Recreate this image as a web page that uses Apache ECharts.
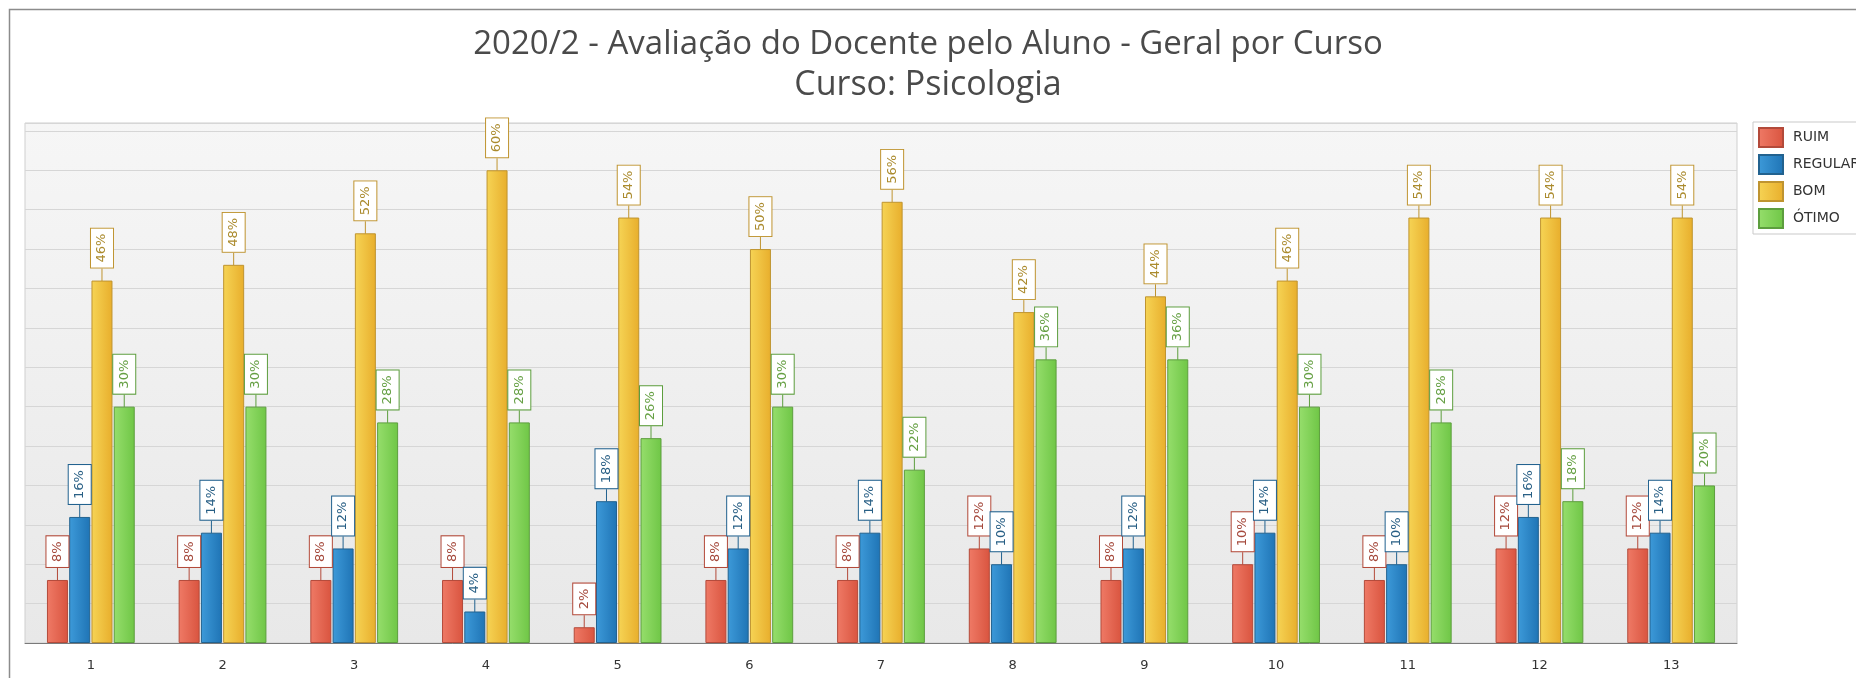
<!DOCTYPE html>
<html style="height: 100%">
   <head>
       <meta charset="utf-8">
   </head>
   <body style="height: 100%; margin: 0; background: #fff">
       <div id="container" style="width: 1856px; height: 678px"></div>
       <script type="text/javascript" src="https://cdn.jsdelivr.net/npm/echarts@6/dist/echarts.min.js"></script>
       <script type="text/javascript">
var dom = document.getElementById("container");
var myChart = echarts.init(dom);

// categorias (perguntas) e percentuais por conceito
var categories = ['1', '2', '3', '4', '5', '6', '7', '8', '9', '10', '11', '12', '13'];
var ruim    = [8, 8, 8, 8, 2, 8, 8, 12, 8, 10, 8, 12, 12];
var regular = [16, 14, 12, 4, 18, 12, 14, 10, 12, 14, 10, 16, 14];
var bom     = [46, 48, 52, 60, 54, 50, 56, 42, 44, 46, 54, 54, 54];
var otimo   = [30, 30, 28, 28, 26, 30, 22, 36, 36, 30, 28, 18, 20];
var seriesNames = ['RUIM', 'REGULAR', 'BOM', 'ÓTIMO'];

var FONT = 'DejaVu Sans';

// sub-ticks: 5 por categoria
var subCats = [];
for (var i = 0; i < categories.length * 5; i++) subCats.push('');

function grad(c1, c2) {
    return new echarts.graphic.LinearGradient(0, 0, 1, 0, [
        {offset: 0, color: c1},
        {offset: 1, color: c2}
    ]);
}

var styles = [
    {fill: grad('#ef7a66', '#d9543f'), border: '#b34a3a', text: '#a5493c'},
    {fill: grad('#3d9ad9', '#1f74b5'), border: '#22628f', text: '#285f85'},
    {fill: grad('#f6d455', '#e8ae2c'), border: '#bf9430', text: '#ab8b2e'},
    {fill: grad('#96de6c', '#6fc646'), border: '#5d9e3e', text: '#66a044'}
];

function makeSeries(name, data, st) {
    return {
        name: name,
        type: 'bar',
        data: data,
        barWidth: 21,
        barGap: '6%',
        itemStyle: {
            color: st.fill,
            borderColor: st.border,
            borderWidth: 1
        },
        label: {
            show: true,
            position: 'top',
            distance: 13,
            rotate: 90,
            align: 'left',
            verticalAlign: 'middle',
            formatter: '{c}%',
            fontFamily: FONT,
            fontSize: 13,
            lineHeight: 16,
            color: st.text,
            backgroundColor: '#ffffff',
            borderColor: st.border,
            borderWidth: 1,
            padding: [3, 5, 3, 5]
        },
        labelLine: {
            show: true,
            length2: 0,
            lineStyle: {color: st.border, width: 1}
        }
    };
}

var option = {
    animation: false,
    backgroundColor: '#ffffff',
    title: [
        {
            text: '2020/2 - Avaliação do Docente pelo Aluno - Geral por Curso',
            left: 'center',
            top: 25,
            padding: 0,
            textStyle: {fontFamily: 'Open Sans', fontSize: 33, fontWeight: 'normal', color: '#4a4a4a', lineHeight: 40}
        },
        {
            text: 'Curso: Psicologia',
            left: 'center',
            top: 65,
            padding: 0,
            textStyle: {fontFamily: 'Open Sans', fontSize: 34, fontWeight: 'normal', color: '#4a4a4a', lineHeight: 40}
        }
    ],
    graphic: [
        {
            type: 'rect',
            shape: {x: 9.5, y: 9.5, width: 1900, height: 800},
            style: {fill: 'none', stroke: '#8c8c8c', lineWidth: 1.5},
            silent: true
        }
    ],
    legend: {
        orient: 'vertical',
        left: 1753,
        top: 122,
        padding: [5, 40, 5, 5],
        icon: 'rect',
        itemWidth: 24,
        itemHeight: 19,
        itemGap: 6,
        backgroundColor: '#ffffff',
        borderColor: '#c9c9c9',
        borderWidth: 1,
        borderRadius: 0,
        textStyle: {fontFamily: FONT, fontSize: 14, color: '#333', padding: [0, 0, 0, 5]},
        data: seriesNames
    },
    grid: {
        left: 25,
        right: 119,
        top: 123,
        bottom: 35,
        show: true,
        borderColor: '#cfcfcf',
        borderWidth: 1,
        backgroundColor: new echarts.graphic.LinearGradient(0, 0, 0, 1, [
            {offset: 0, color: '#f6f6f6'},
            {offset: 1, color: '#e8e8e8'}
        ])
    },
    xAxis: [
        {
            type: 'category',
            data: categories,
            boundaryGap: true,
            axisLine: {lineStyle: {color: '#7a7a7a', width: 1}},
            axisTick: {alignWithLabel: true, length: 8, lineStyle: {color: '#7a7a7a'}},
            axisLabel: {fontFamily: FONT, fontSize: 13, color: '#333', margin: 16},
            splitLine: {show: false}
        },
        {
            type: 'category',
            data: subCats,
            position: 'bottom',
            boundaryGap: true,
            axisLine: {show: false},
            axisTick: {alignWithLabel: true, interval: 0, length: 4, lineStyle: {color: '#7a7a7a'}},
            axisLabel: {show: false},
            splitLine: {show: false}
        }
    ],
    yAxis: {
        type: 'value',
        min: 0,
        max: 66,
        interval: 5,
        axisLine: {show: false},
        axisTick: {show: false},
        axisLabel: {show: false},
        splitLine: {lineStyle: {color: '#d6d6d6', width: 1}}
    },
    series: [
        makeSeries(seriesNames[0], ruim, styles[0]),
        makeSeries(seriesNames[1], regular, styles[1]),
        makeSeries(seriesNames[2], bom, styles[2]),
        makeSeries(seriesNames[3], otimo, styles[3])
    ]
};

myChart.setOption(option, true);
       </script>
   </body>
</html>
